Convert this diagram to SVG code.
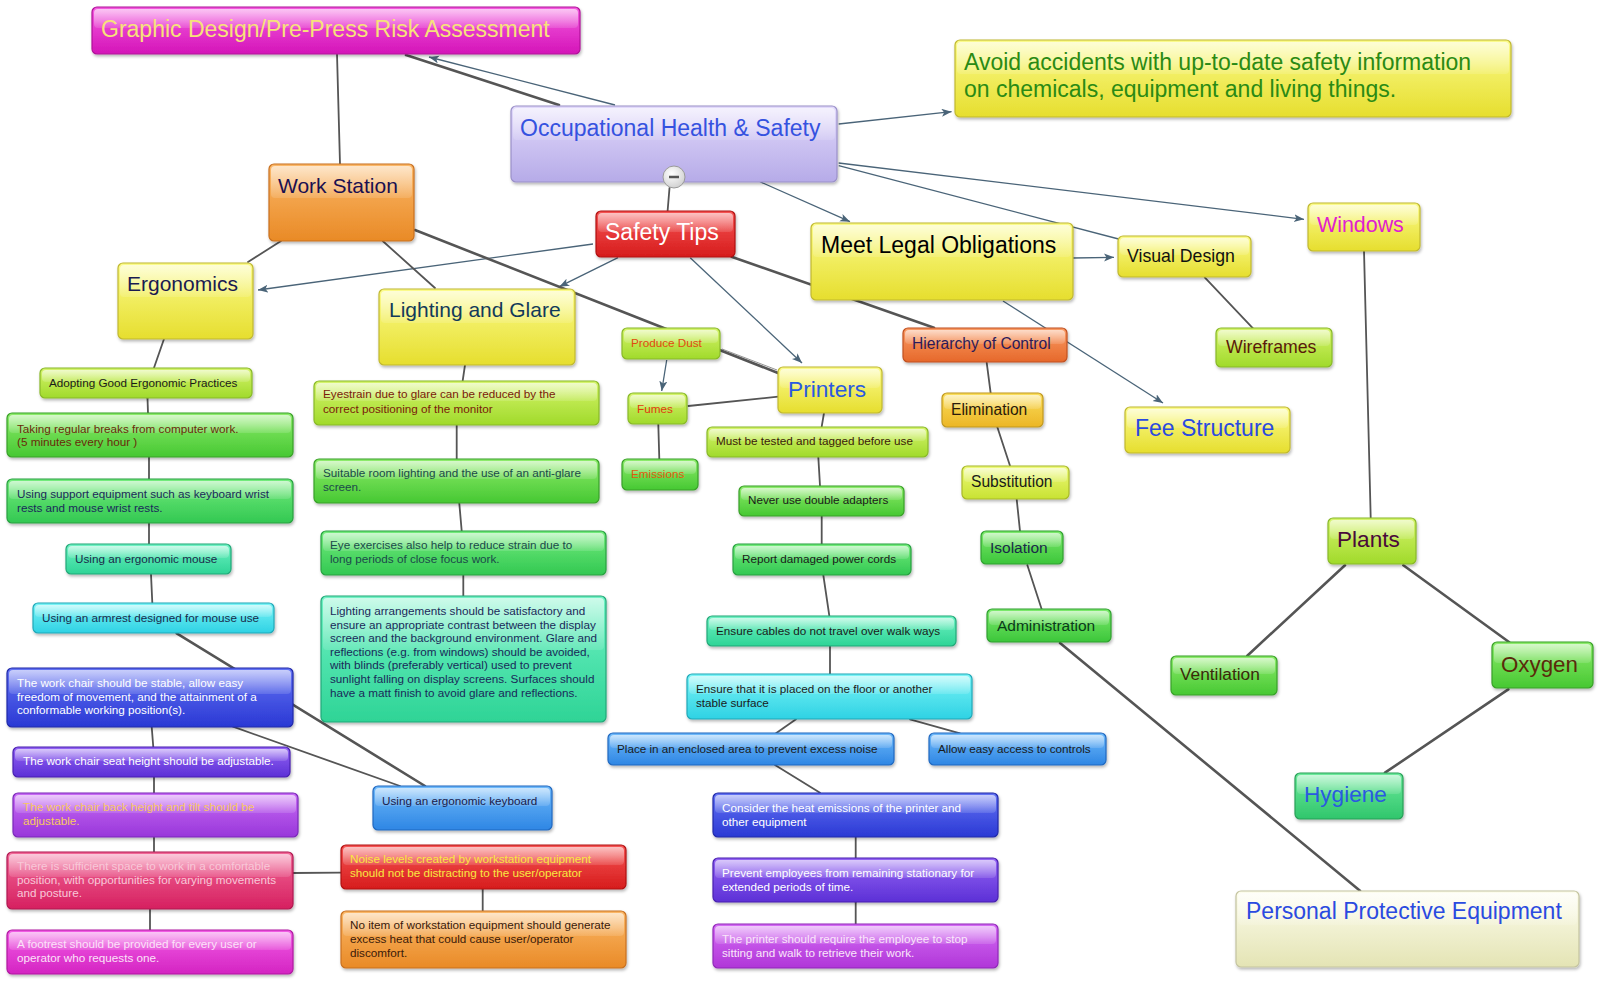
<svg xmlns="http://www.w3.org/2000/svg" width="1600" height="988" viewBox="0 0 1600 988">
<defs>
<filter id="sh" x="-10%" y="-10%" width="120%" height="140%"><feDropShadow dx="1" dy="2" stdDeviation="1.5" flood-color="#000" flood-opacity="0.28"/></filter>
<linearGradient id="gloss" x1="0" y1="0" x2="0" y2="1"><stop offset="0" stop-color="#fff" stop-opacity="0.65"/><stop offset="1" stop-color="#fff" stop-opacity="0.12"/></linearGradient>
<linearGradient id="g-mag" x1="0" y1="0" x2="0" y2="1"><stop offset="0" stop-color="#f45ce0"/><stop offset="1" stop-color="#d414b8"/></linearGradient>
<linearGradient id="g-lav" x1="0" y1="0" x2="0" y2="1"><stop offset="0" stop-color="#e2dafb"/><stop offset="1" stop-color="#b6abe8"/></linearGradient>
<linearGradient id="g-ora" x1="0" y1="0" x2="0" y2="1"><stop offset="0" stop-color="#fbb868"/><stop offset="1" stop-color="#e98a26"/></linearGradient>
<linearGradient id="g-yel" x1="0" y1="0" x2="0" y2="1"><stop offset="0" stop-color="#fbfb8c"/><stop offset="1" stop-color="#e6de2e"/></linearGradient>
<linearGradient id="g-red" x1="0" y1="0" x2="0" y2="1"><stop offset="0" stop-color="#f65454"/><stop offset="1" stop-color="#d61c1c"/></linearGradient>
<linearGradient id="g-lime" x1="0" y1="0" x2="0" y2="1"><stop offset="0" stop-color="#d6f46e"/><stop offset="1" stop-color="#a0da2a"/></linearGradient>
<linearGradient id="g-grn" x1="0" y1="0" x2="0" y2="1"><stop offset="0" stop-color="#8eec6c"/><stop offset="1" stop-color="#46c832"/></linearGradient>
<linearGradient id="g-grn2" x1="0" y1="0" x2="0" y2="1"><stop offset="0" stop-color="#74ec7c"/><stop offset="1" stop-color="#32c852"/></linearGradient>
<linearGradient id="g-teal" x1="0" y1="0" x2="0" y2="1"><stop offset="0" stop-color="#70f2c4"/><stop offset="1" stop-color="#2ed496"/></linearGradient>
<linearGradient id="g-cyan" x1="0" y1="0" x2="0" y2="1"><stop offset="0" stop-color="#7cf4f6"/><stop offset="1" stop-color="#2ed2e4"/></linearGradient>
<linearGradient id="g-blt" x1="0" y1="0" x2="0" y2="1"><stop offset="0" stop-color="#70bafa"/><stop offset="1" stop-color="#2e86e4"/></linearGradient>
<linearGradient id="g-blue" x1="0" y1="0" x2="0" y2="1"><stop offset="0" stop-color="#6474f4"/><stop offset="1" stop-color="#2a38d4"/></linearGradient>
<linearGradient id="g-pur" x1="0" y1="0" x2="0" y2="1"><stop offset="0" stop-color="#9464f4"/><stop offset="1" stop-color="#5c30d6"/></linearGradient>
<linearGradient id="g-vio" x1="0" y1="0" x2="0" y2="1"><stop offset="0" stop-color="#c86cf4"/><stop offset="1" stop-color="#9836da"/></linearGradient>
<linearGradient id="g-vio2" x1="0" y1="0" x2="0" y2="1"><stop offset="0" stop-color="#d46cf4"/><stop offset="1" stop-color="#b036d8"/></linearGradient>
<linearGradient id="g-pink" x1="0" y1="0" x2="0" y2="1"><stop offset="0" stop-color="#f26898"/><stop offset="1" stop-color="#d62060"/></linearGradient>
<linearGradient id="g-mag2" x1="0" y1="0" x2="0" y2="1"><stop offset="0" stop-color="#f25ce6"/><stop offset="1" stop-color="#d424c2"/></linearGradient>
<linearGradient id="g-ora2" x1="0" y1="0" x2="0" y2="1"><stop offset="0" stop-color="#fa9c66"/><stop offset="1" stop-color="#e6682a"/></linearGradient>
<linearGradient id="g-gold" x1="0" y1="0" x2="0" y2="1"><stop offset="0" stop-color="#fade5c"/><stop offset="1" stop-color="#ecb626"/></linearGradient>
<linearGradient id="g-yg" x1="0" y1="0" x2="0" y2="1"><stop offset="0" stop-color="#eefa7c"/><stop offset="1" stop-color="#c8e232"/></linearGradient>
<linearGradient id="g-grn3" x1="0" y1="0" x2="0" y2="1"><stop offset="0" stop-color="#7cea6c"/><stop offset="1" stop-color="#3cc63a"/></linearGradient>
<linearGradient id="g-hyg" x1="0" y1="0" x2="0" y2="1"><stop offset="0" stop-color="#6eea9c"/><stop offset="1" stop-color="#30c66c"/></linearGradient>
<linearGradient id="g-pale" x1="0" y1="0" x2="0" y2="1"><stop offset="0" stop-color="#fdfdee"/><stop offset="1" stop-color="#e4e4b4"/></linearGradient>
<radialGradient id="g-circ" cx="0.4" cy="0.35" r="0.7"><stop offset="0" stop-color="#ffffff"/><stop offset="1" stop-color="#cfcfcf"/></radialGradient>
<marker id="arr" markerUnits="userSpaceOnUse" markerWidth="12" markerHeight="10" refX="10" refY="4" orient="auto"><path d="M0,0 L10,4 L0,8 L2.5,4 z" fill="#4a6478"/></marker>
<style>
.n{filter:url(#sh);stroke-width:1.2}
.gl{fill:url(#gloss)}
.mag{fill:url(#g-mag);stroke:#b01098}
.lav{fill:url(#g-lav);stroke:#9a90c8}
.ora{fill:url(#g-ora);stroke:#c87020}
.yel{fill:url(#g-yel);stroke:#c0b830}
.red{fill:url(#g-red);stroke:#b01010}
.lime{fill:url(#g-lime);stroke:#88b828}
.grn{fill:url(#g-grn);stroke:#38a028}
.grn2{fill:url(#g-grn2);stroke:#28a040}
.teal{fill:url(#g-teal);stroke:#22a878}
.cyan{fill:url(#g-cyan);stroke:#20a8b8}
.blt{fill:url(#g-blt);stroke:#2068c0}
.blue{fill:url(#g-blue);stroke:#2028a8}
.pur{fill:url(#g-pur);stroke:#4820b0}
.vio{fill:url(#g-vio);stroke:#7a28b8}
.vio2{fill:url(#g-vio2);stroke:#9028b8}
.pink{fill:url(#g-pink);stroke:#b01850}
.mag2{fill:url(#g-mag2);stroke:#b01aa0}
.ora2{fill:url(#g-ora2);stroke:#c05020}
.gold{fill:url(#g-gold);stroke:#c09820}
.yg{fill:url(#g-yg);stroke:#a8b828}
.grn3{fill:url(#g-grn3);stroke:#30a030}
.hyg{fill:url(#g-hyg);stroke:#28a058}
.pale{fill:url(#g-pale);stroke:#c4c4a0}
text{font-family:"Liberation Sans",Arial,sans-serif}
.s{font-size:11.7px}
.ln{stroke:#555;stroke-width:1.8;fill:none;stroke-linecap:round}
.tk{stroke:#555;stroke-width:2.6;fill:none;stroke-linecap:round}
.th{stroke:#777;stroke-width:0.8;fill:none}
.ar{stroke:#4a6478;stroke-width:1.3;fill:none;marker-end:url(#arr)}
</style>
</defs>
<rect width="1600" height="988" fill="#ffffff"/>
<g id="connectors">
<line class="ln" x1="337" y1="54" x2="340" y2="164"/>
<line class="tk" x1="406" y1="55" x2="559" y2="105"/>
<line class="ar" x1="615" y1="105" x2="429" y2="57"/>
<line class="ln" x1="669.5" y1="188" x2="667.6" y2="211"/>
<line class="ar" x1="838.7" y1="124" x2="951.6" y2="111.7"/>
<line class="ar" x1="760" y1="181.7" x2="850" y2="221.7"/>
<line class="ar" x1="838.7" y1="163" x2="1304" y2="219.3"/>
<line class="ar" x1="838.7" y1="165.7" x2="1118.6" y2="239" style="marker-end:none"/>
<line class="ar" x1="1072.7" y1="258" x2="1114" y2="257.3"/>
<line class="ar" x1="1003" y1="301" x2="1163" y2="403"/>
<line class="ar" x1="593" y1="244" x2="258" y2="290"/>
<line class="ar" x1="618" y1="257.7" x2="559.3" y2="286.7"/>
<line class="ar" x1="690.2" y1="257.7" x2="802" y2="363"/>
<line class="tk" x1="731.5" y1="256.7" x2="934" y2="327.7"/>
<line class="ln" x1="281" y1="241" x2="248" y2="262"/>
<line class="ln" x1="382.7" y1="241" x2="435" y2="288"/>
<line class="tk" x1="415" y1="230" x2="778" y2="373"/>
<line class="th" x1="722" y1="349" x2="777" y2="370"/>
<line class="ar" x1="666.7" y1="360" x2="661.7" y2="391"/>
<line class="ln" x1="688.3" y1="406" x2="778.3" y2="396.7"/>
<line class="ln" x1="658.3" y1="424.3" x2="659.3" y2="459"/>
<line class="ln" x1="824" y1="413" x2="821.7" y2="426.7"/>
<line class="ln" x1="818.3" y1="457" x2="820" y2="485.7"/>
<line class="ln" x1="821.7" y1="516" x2="821.7" y2="544.3"/>
<line class="ln" x1="823.3" y1="575" x2="829.3" y2="615.7"/>
<line class="ln" x1="830" y1="646" x2="830" y2="674.3"/>
<line class="ln" x1="796" y1="719.3" x2="776" y2="733.3"/>
<line class="ln" x1="910" y1="719.3" x2="960" y2="733.3"/>
<line class="ln" x1="775" y1="765" x2="820" y2="792.7"/>
<line class="ln" x1="855.7" y1="836.7" x2="855.7" y2="858.3"/>
<line class="ln" x1="855.7" y1="902.3" x2="855.7" y2="924"/>
<line class="ln" x1="465" y1="365" x2="462.7" y2="380.7"/>
<line class="ln" x1="456.7" y1="425" x2="456.7" y2="459.3"/>
<line class="ln" x1="459.3" y1="503.3" x2="461.7" y2="531"/>
<line class="ln" x1="463.3" y1="575" x2="463.3" y2="596"/>
<line class="ln" x1="164" y1="339" x2="154" y2="367.7"/>
<line class="ln" x1="147.5" y1="398.3" x2="148" y2="413.3"/>
<line class="ln" x1="149" y1="457.3" x2="149" y2="479"/>
<line class="ln" x1="149" y1="522.7" x2="149" y2="544.3"/>
<line class="ln" x1="151" y1="574.3" x2="152.3" y2="602.7"/>
<line class="tk" x1="176.7" y1="633.3" x2="425" y2="786"/>
<line class="ln" x1="233" y1="726.7" x2="400" y2="786"/>
<line class="ln" x1="151.7" y1="726.7" x2="153.3" y2="747.3"/>
<line class="ln" x1="154" y1="777.3" x2="154" y2="792.7"/>
<line class="ln" x1="154" y1="836.7" x2="154" y2="851.7"/>
<line class="ln" x1="150" y1="909" x2="150" y2="930"/>
<line class="ln" x1="292.7" y1="873" x2="340.7" y2="872.7"/>
<line class="ln" x1="482.7" y1="889.3" x2="482.7" y2="910.7"/>
<line class="ln" x1="986.7" y1="362.7" x2="990.7" y2="393.3"/>
<line class="ln" x1="997.3" y1="427" x2="1010" y2="465.7"/>
<line class="ln" x1="1016.7" y1="499.3" x2="1020" y2="531"/>
<line class="ln" x1="1027.3" y1="565" x2="1041.7" y2="609.3"/>
<line class="tk" x1="1060" y1="643" x2="1360" y2="890.7"/>
<line class="ln" x1="1204.7" y1="277.3" x2="1253" y2="328.3"/>
<line class="ln" x1="1364" y1="250.7" x2="1370.7" y2="517.7"/>
<line class="tk" x1="1345" y1="565.3" x2="1247.3" y2="655.7"/>
<line class="tk" x1="1403.3" y1="565.3" x2="1509.3" y2="642.3"/>
<line class="tk" x1="1508.3" y1="689.3" x2="1385" y2="772.7"/>
</g>
<g id="n-title"><rect class="n mag" x="92" y="7" width="488" height="47" rx="5"/><rect class="gl" x="94" y="9" width="484" height="19" rx="4"/><text x="101" y="37" font-size="23" fill="#f6e27a">Graphic Design/Pre-Press Risk Assessment</text></g>
<g id="n-ohs"><rect class="n lav" x="511" y="106" width="326" height="76" rx="5"/><rect class="gl" x="513" y="108" width="322" height="32" rx="4"/><text x="520" y="136" font-size="23" fill="#3552e0">Occupational Health &amp; Safety</text><circle cx="674" cy="177" r="11" fill="url(#g-circ)" stroke="#9a9a9a"/><line x1="669" y1="177" x2="679" y2="177" stroke="#555" stroke-width="2.5"/></g>
<g id="n-work"><rect class="n ora" x="269" y="164" width="145" height="77" rx="5"/><rect class="gl" x="271" y="166" width="141" height="32" rx="4"/><text x="278" y="193" font-size="21" fill="#1a1050">Work Station</text></g>
<g id="n-ergo"><rect class="n yel" x="118" y="263" width="135" height="76" rx="5"/><rect class="gl" x="120" y="265" width="131" height="32" rx="4"/><text x="127" y="291" font-size="21" fill="#1a1a50">Ergonomics</text></g>
<g id="n-light"><rect class="n yel" x="379" y="289" width="196" height="76" rx="5"/><rect class="gl" x="381" y="291" width="192" height="32" rx="4"/><text x="389" y="317" font-size="21" fill="#123a5a">Lighting and Glare</text></g>
<g id="n-safety"><rect class="n red" x="596" y="211" width="139" height="46" rx="5"/><rect class="gl" x="598" y="213" width="135" height="19" rx="4"/><text x="605" y="240" font-size="23" fill="#ffffff">Safety Tips</text></g>
<g id="n-meet"><rect class="n yel" x="811" y="223" width="262" height="77" rx="5"/><rect class="gl" x="813" y="225" width="258" height="32" rx="4"/><text x="821" y="253" font-size="23" fill="#000000">Meet Legal Obligations</text></g>
<g id="n-avoid"><rect class="n yel" x="955" y="40" width="556" height="77" rx="5"/><rect class="gl" x="957" y="42" width="552" height="32" rx="4"/><text x="964" y="70" font-size="23" fill="#2a8a14">Avoid accidents with up-to-date safety information</text><text x="964" y="97" font-size="23" fill="#2a8a14">on chemicals, equipment and living things.</text></g>
<g id="n-visual"><rect class="n yel" x="1118" y="236" width="133" height="41" rx="5"/><rect class="gl" x="1120" y="238" width="129" height="17" rx="4"/><text x="1127" y="262" font-size="17.7" fill="#111111">Visual Design</text></g>
<g id="n-windows"><rect class="n yel" x="1308" y="203" width="112" height="48" rx="5"/><rect class="gl" x="1310" y="205" width="108" height="20" rx="4"/><text x="1317" y="232" font-size="21.4" fill="#e020d0">Windows</text></g>
<g id="n-wire"><rect class="n lime" x="1216" y="328" width="116" height="39" rx="5"/><rect class="gl" x="1218" y="330" width="112" height="16" rx="4"/><text x="1226" y="353" font-size="17.7" fill="#5a1a0a">Wireframes</text></g>
<g id="n-hier"><rect class="n ora2" x="903" y="328" width="164" height="34" rx="5"/><rect class="gl" x="905" y="330" width="160" height="14" rx="4"/><text x="912" y="349" font-size="15.6" fill="#2a1a5a">Hierarchy of Control</text></g>
<g id="n-elim"><rect class="n gold" x="942" y="393" width="101" height="34" rx="5"/><rect class="gl" x="944" y="395" width="97" height="14" rx="4"/><text x="951" y="415" font-size="15.6" fill="#2a1a0a">Elimination</text></g>
<g id="n-subst"><rect class="n yg" x="962" y="466" width="107" height="33" rx="5"/><rect class="gl" x="964" y="468" width="103" height="14" rx="4"/><text x="971" y="487" font-size="15.6" fill="#1a1a1a">Substitution</text></g>
<g id="n-iso"><rect class="n grn3" x="981" y="531" width="82" height="33" rx="5"/><rect class="gl" x="983" y="533" width="78" height="14" rx="4"/><text x="990" y="553" font-size="15.5" fill="#1a2a4a">Isolation</text></g>
<g id="n-admin"><rect class="n grn3" x="987" y="609" width="124" height="33" rx="5"/><rect class="gl" x="989" y="611" width="120" height="14" rx="4"/><text x="997" y="631" font-size="15.5" fill="#0a3a1a">Administration</text></g>
<g id="n-fee"><rect class="n yel" x="1125" y="407" width="165" height="46" rx="5"/><rect class="gl" x="1127" y="409" width="161" height="19" rx="4"/><text x="1135" y="436" font-size="23" fill="#2a4ae0">Fee Structure</text></g>
<g id="n-printers"><rect class="n yel" x="778" y="367" width="104" height="46" rx="5"/><rect class="gl" x="780" y="369" width="100" height="19" rx="4"/><text x="788" y="397" font-size="22.7" fill="#2a5ae0">Printers</text></g>
<g id="n-dust"><rect class="n lime" x="622" y="328" width="98" height="31" rx="5"/><rect class="gl" x="624" y="330" width="94" height="13" rx="4"/><text class="s" x="631" y="347" fill="#e04a10">Produce Dust</text></g>
<g id="n-fumes"><rect class="n lime" x="628" y="393" width="59" height="31" rx="5"/><rect class="gl" x="630" y="395" width="55" height="13" rx="4"/><text class="s" x="637" y="413" fill="#e03a10">Fumes</text></g>
<g id="n-emis"><rect class="n grn" x="622" y="459" width="76" height="31" rx="5"/><rect class="gl" x="624" y="461" width="72" height="13" rx="4"/><text class="s" x="631" y="478" fill="#e05a10">Emissions</text></g>
<g id="n-must"><rect class="n lime" x="707" y="427" width="221" height="30" rx="5"/><rect class="gl" x="709" y="429" width="217" height="12" rx="4"/><text class="s" x="716" y="445" fill="#3a1a0a">Must be tested and tagged before use</text></g>
<g id="n-never"><rect class="n grn" x="739" y="486" width="165" height="30" rx="5"/><rect class="gl" x="741" y="488" width="161" height="12" rx="4"/><text class="s" x="748" y="504" fill="#1a1a1a">Never use double adapters</text></g>
<g id="n-report"><rect class="n grn2" x="733" y="544" width="178" height="31" rx="5"/><rect class="gl" x="735" y="546" width="174" height="13" rx="4"/><text class="s" x="742" y="563" fill="#1a1a1a">Report damaged power cords</text></g>
<g id="n-cables"><rect class="n teal" x="707" y="616" width="249" height="30" rx="5"/><rect class="gl" x="709" y="618" width="245" height="12" rx="4"/><text class="s" x="716" y="635" fill="#1a1a1a">Ensure cables do not travel over walk ways</text></g>
<g id="n-placed"><rect class="n cyan" x="687" y="674" width="285" height="45" rx="5"/><rect class="gl" x="689" y="676" width="281" height="18" rx="4"/><text class="s" x="696" y="693" fill="#1a1a1a">Ensure that it is placed on the floor or another</text><text class="s" x="696" y="707" fill="#1a1a1a">stable surface</text></g>
<g id="n-enclosed"><rect class="n blt" x="608" y="733" width="286" height="32" rx="5"/><rect class="gl" x="610" y="735" width="282" height="13" rx="4"/><text class="s" x="617" y="753" fill="#1a1a1a">Place in an enclosed area to prevent excess noise</text></g>
<g id="n-allow"><rect class="n blt" x="929" y="733" width="177" height="32" rx="5"/><rect class="gl" x="931" y="735" width="173" height="13" rx="4"/><text class="s" x="938" y="753" fill="#1a1a1a">Allow easy access to controls</text></g>
<g id="n-consider"><rect class="n blue" x="713" y="793" width="285" height="44" rx="5"/><rect class="gl" x="715" y="795" width="281" height="18" rx="4"/><text class="s" x="722" y="812" fill="#ffffff">Consider the heat emissions of the printer and</text><text class="s" x="722" y="826" fill="#ffffff">other equipment</text></g>
<g id="n-prevent"><rect class="n pur" x="713" y="858" width="285" height="44" rx="5"/><rect class="gl" x="715" y="860" width="281" height="18" rx="4"/><text class="s" x="722" y="877" fill="#ffffff">Prevent employees from remaining stationary for</text><text class="s" x="722" y="891" fill="#ffffff">extended periods of time.</text></g>
<g id="n-printshould"><rect class="n vio2" x="713" y="924" width="285" height="44" rx="5"/><rect class="gl" x="715" y="926" width="281" height="18" rx="4"/><text class="s" x="722" y="943" fill="#fae6fa">The printer should require the employee to stop</text><text class="s" x="722" y="957" fill="#fae6fa">sitting and walk to retrieve their work.</text></g>
<g id="n-eyestrain"><rect class="n lime" x="314" y="381" width="285" height="44" rx="5"/><rect class="gl" x="316" y="383" width="281" height="18" rx="4"/><text class="s" x="323" y="398" fill="#7a1a0a">Eyestrain due to glare can be reduced by the</text><text class="s" x="323" y="413" fill="#7a1a0a">correct positioning of the monitor</text></g>
<g id="n-suitable"><rect class="n grn" x="314" y="459" width="285" height="44" rx="5"/><rect class="gl" x="316" y="461" width="281" height="18" rx="4"/><text class="s" x="323" y="477" fill="#1a4a4a">Suitable room lighting and the use of an anti-glare</text><text class="s" x="323" y="491" fill="#1a4a4a">screen.</text></g>
<g id="n-eyeex"><rect class="n grn2" x="321" y="531" width="285" height="44" rx="5"/><rect class="gl" x="323" y="533" width="281" height="18" rx="4"/><text class="s" x="330" y="549" fill="#1a4a4a">Eye exercises also help to reduce strain due to</text><text class="s" x="330" y="563" fill="#1a4a4a">long periods of close focus work.</text></g>
<g id="n-lightarr"><rect class="n teal" x="321" y="596" width="285" height="126" rx="5"/><rect class="gl" x="323" y="598" width="281" height="52" rx="4"/>
<text class="s" x="330" y="615" fill="#1a2a5a">Lighting arrangements should be satisfactory and</text>
<text class="s" x="330" y="628.6" fill="#1a2a5a">ensure an appropriate contrast between the display</text>
<text class="s" x="330" y="642.2" fill="#1a2a5a">screen and the background environment. Glare and</text>
<text class="s" x="330" y="655.8" fill="#1a2a5a">reflections (e.g. from windows) should be avoided,</text>
<text class="s" x="330" y="669.4" fill="#1a2a5a">with blinds (preferably vertical) used to prevent</text>
<text class="s" x="330" y="683" fill="#1a2a5a">sunlight falling on display screens. Surfaces should</text>
<text class="s" x="330" y="696.6" fill="#1a2a5a">have a matt finish to avoid glare and reflections.</text></g>
<g id="n-adopt"><rect class="n lime" x="40" y="368" width="212" height="30" rx="5"/><rect class="gl" x="42" y="370" width="208" height="12" rx="4"/><text class="s" x="49" y="387" fill="#1a1a1a">Adopting Good Ergonomic Practices</text></g>
<g id="n-taking"><rect class="n grn" x="7" y="413" width="286" height="44" rx="5"/><rect class="gl" x="9" y="415" width="282" height="18" rx="4"/><text class="s" x="17" y="433" fill="#6a2a0a">Taking regular breaks from computer work.</text><text class="s" x="17" y="446" fill="#6a2a0a">(5 minutes every hour )</text></g>
<g id="n-support"><rect class="n grn2" x="7" y="479" width="286" height="44" rx="5"/><rect class="gl" x="9" y="481" width="282" height="18" rx="4"/><text class="s" x="17" y="498" fill="#1a2a5a">Using support equipment such as keyboard wrist</text><text class="s" x="17" y="512" fill="#1a2a5a">rests and mouse wrist rests.</text></g>
<g id="n-mouse"><rect class="n teal" x="66" y="544" width="165" height="30" rx="5"/><rect class="gl" x="68" y="546" width="161" height="12" rx="4"/><text class="s" x="75" y="563" fill="#1a2a4a">Using an ergonomic mouse</text></g>
<g id="n-armrest"><rect class="n cyan" x="33" y="603" width="241" height="30" rx="5"/><rect class="gl" x="35" y="605" width="237" height="12" rx="4"/><text class="s" x="42" y="622" fill="#1a2a4a">Using an armrest designed for mouse use</text></g>
<g id="n-chair"><rect class="n blue" x="7" y="668" width="286" height="59" rx="5"/><rect class="gl" x="9" y="670" width="282" height="24" rx="4"/><text class="s" x="17" y="687" fill="#ffffff">The work chair should be stable, allow easy</text><text class="s" x="17" y="700.5" fill="#ffffff">freedom of movement, and the attainment of a</text><text class="s" x="17" y="714" fill="#ffffff">conformable working position(s).</text></g>
<g id="n-seat"><rect class="n pur" x="13" y="747" width="277" height="30" rx="5"/><rect class="gl" x="15" y="749" width="273" height="12" rx="4"/><text class="s" x="23" y="765" fill="#ffffff">The work chair seat height should be adjustable.</text></g>
<g id="n-back"><rect class="n vio" x="13" y="793" width="285" height="44" rx="5"/><rect class="gl" x="15" y="795" width="281" height="18" rx="4"/><text class="s" x="23" y="811" fill="#f8c860">The work chair back height and tilt should be</text><text class="s" x="23" y="824.5" fill="#f8c860">adjustable.</text></g>
<g id="n-sufficient"><rect class="n pink" x="7" y="852" width="286" height="57" rx="5"/><rect class="gl" x="9" y="854" width="282" height="23" rx="4"/><text class="s" x="17" y="870" fill="#f8c8d8">There is sufficient space to work in a comfortable</text><text class="s" x="17" y="883.5" fill="#f8c8d8">position, with opportunities for varying movements</text><text class="s" x="17" y="897" fill="#f8c8d8">and posture.</text></g>
<g id="n-footrest"><rect class="n mag2" x="7" y="930" width="286" height="44" rx="5"/><rect class="gl" x="9" y="932" width="282" height="18" rx="4"/><text class="s" x="17" y="948" fill="#fbe2f8">A footrest should be provided for every user or</text><text class="s" x="17" y="962" fill="#fbe2f8">operator who requests one.</text></g>
<g id="n-keyboard"><rect class="n blt" x="373" y="786" width="179" height="44" rx="5"/><rect class="gl" x="375" y="788" width="175" height="18" rx="4"/><text class="s" x="382" y="805" fill="#1a1a4a">Using an ergonomic keyboard</text></g>
<g id="n-noise"><rect class="n red" x="341" y="845" width="285" height="44" rx="5"/><rect class="gl" x="343" y="847" width="281" height="18" rx="4"/><text class="s" x="350" y="863" fill="#f8e840">Noise levels created by workstation equipment</text><text class="s" x="350" y="877" fill="#f8e840">should not be distracting to the user/operator</text></g>
<g id="n-noitem"><rect class="n ora" x="341" y="911" width="285" height="57" rx="5"/><rect class="gl" x="343" y="913" width="281" height="23" rx="4"/><text class="s" x="350" y="929" fill="#3a1a0a">No item of workstation equipment should generate</text><text class="s" x="350" y="943" fill="#3a1a0a">excess heat that could cause user/operator</text><text class="s" x="350" y="957" fill="#3a1a0a">discomfort.</text></g>
<g id="n-plants"><rect class="n lime" x="1328" y="518" width="88" height="46" rx="5"/><rect class="gl" x="1330" y="520" width="84" height="19" rx="4"/><text x="1337" y="547" font-size="22.6" fill="#4a0a3a">Plants</text></g>
<g id="n-vent"><rect class="n grn" x="1171" y="656" width="106" height="39" rx="5"/><rect class="gl" x="1173" y="658" width="102" height="16" rx="4"/><text x="1180" y="680" font-size="17.3" fill="#3a2a0a">Ventilation</text></g>
<g id="n-oxygen"><rect class="n grn" x="1492" y="642" width="101" height="46" rx="5"/><rect class="gl" x="1494" y="644" width="97" height="19" rx="4"/><text x="1501" y="672" font-size="22.3" fill="#5a2a0a">Oxygen</text></g>
<g id="n-hygiene"><rect class="n hyg" x="1295" y="773" width="108" height="46" rx="5"/><rect class="gl" x="1297" y="775" width="104" height="19" rx="4"/><text x="1304" y="802" font-size="22.6" fill="#2a5ae0">Hygiene</text></g>
<g id="n-ppe"><rect class="n pale" x="1236" y="891" width="343" height="76" rx="5"/><rect class="gl" x="1238" y="893" width="339" height="32" rx="4"/><text x="1246" y="919" font-size="23" fill="#2a4ae0">Personal Protective Equipment</text></g>
</svg>
